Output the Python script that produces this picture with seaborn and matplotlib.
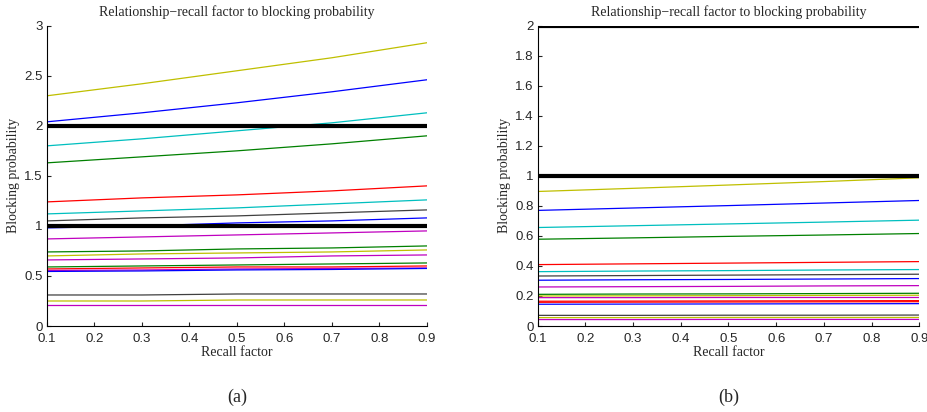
import matplotlib
matplotlib.use("Agg")
import matplotlib.pyplot as plt
import pandas as pd
import seaborn as sns

# recall factor samples
recall = [0.1, 0.3, 0.5, 0.7, 0.9]

# MATLAB-style line colours
C_B = (0.0, 0.0, 1.0)
C_G = (0.0, 0.5, 0.0)
C_R = (1.0, 0.0, 0.0)
C_C = (0.0, 0.75, 0.75)
C_M = (0.75, 0.0, 0.75)
C_Y = (0.75, 0.75, 0.0)
C_K = (0.25, 0.25, 0.25)

# panel (a): blocking probability curves
a_colors = [C_Y, C_B, C_C, C_G, C_R, C_C, C_K, C_B, C_M, C_G, C_Y, C_M,
            C_G, C_R, C_M, C_B, C_K, C_Y, C_M]
a_values = [
    [2.30, 2.42, 2.55, 2.68, 2.83],
    [2.04, 2.13, 2.23, 2.34, 2.46],
    [1.80, 1.87, 1.95, 2.03, 2.13],
    [1.63, 1.69, 1.75, 1.82, 1.90],
    [1.24, 1.28, 1.31, 1.35, 1.40],
    [1.12, 1.15, 1.18, 1.22, 1.26],
    [1.05, 1.08, 1.10, 1.13, 1.16],
    [0.98, 1.00, 1.03, 1.05, 1.08],
    [0.87, 0.89, 0.91, 0.93, 0.95],
    [0.74, 0.75, 0.77, 0.78, 0.80],
    [0.70, 0.72, 0.73, 0.74, 0.76],
    [0.66, 0.67, 0.68, 0.70, 0.71],
    [0.59, 0.60, 0.61, 0.62, 0.63],
    [0.57, 0.58, 0.59, 0.59, 0.60],
    [0.555, 0.56, 0.57, 0.575, 0.58],
    [0.545, 0.55, 0.56, 0.565, 0.575],
    [0.31, 0.31, 0.32, 0.32, 0.32],
    [0.25, 0.25, 0.26, 0.26, 0.26],
    [0.21, 0.21, 0.21, 0.21, 0.21],
]
a_limits = [2.0, 1.0]

# panel (b)
b_colors = [C_Y, C_B, C_C, C_G, C_R, C_C, C_K, C_B, C_M, C_G, C_Y, C_M,
            C_R, C_R, C_B, C_K, C_Y, C_M]
b_values = [
    [0.896, 0.917, 0.939, 0.962, 0.987],
    [0.770, 0.786, 0.802, 0.819, 0.836],
    [0.656, 0.668, 0.680, 0.692, 0.705],
    [0.578, 0.587, 0.597, 0.606, 0.616],
    [0.409, 0.414, 0.419, 0.424, 0.429],
    [0.362, 0.366, 0.369, 0.373, 0.376],
    [0.333, 0.336, 0.339, 0.342, 0.345],
    [0.305, 0.308, 0.310, 0.313, 0.316],
    [0.260, 0.262, 0.264, 0.267, 0.269],
    [0.211, 0.213, 0.214, 0.216, 0.218],
    [0.200, 0.201, 0.202, 0.204, 0.205],
    [0.189, 0.189, 0.190, 0.190, 0.190],
    [0.165, 0.166, 0.167, 0.168, 0.169],
    [0.158, 0.159, 0.160, 0.161, 0.162],
    [0.145, 0.146, 0.147, 0.148, 0.149],
    [0.071, 0.071, 0.072, 0.072, 0.073],
    [0.056, 0.056, 0.057, 0.057, 0.057],
    [0.043, 0.043, 0.044, 0.044, 0.044],
]
b_limits = [2.0, 1.0]

a_yticks = [0, 0.5, 1, 1.5, 2, 2.5, 3]
b_yticks = [0, 0.2, 0.4, 0.6, 0.8, 1, 1.2, 1.4, 1.6, 1.8, 2]
x_ticks = [0.1, 0.2, 0.3, 0.4, 0.5, 0.6, 0.7, 0.8, 0.9]

sns.set_style("ticks")
plt.rcParams['font.family'] = ['Liberation Sans', 'DejaVu Sans']

fig = plt.figure(figsize=(9.27, 4.12), dpi=100)
ax_a = fig.add_axes([0.0507, 0.2087, 0.4099, 0.7289])
ax_b = fig.add_axes([0.5800, 0.2087, 0.4117, 0.7289])

serif = ['Liberation Serif', 'DejaVu Serif']


def draw_panel(ax, colors, values, limits, yticks, ymax, tag):
    for col, vals in zip(colors, values):
        df = pd.DataFrame({'x': recall, 'y': vals})
        sns.lineplot(data=df, x='x', y='y', color=col, lw=0.9, ax=ax)
    for lim in limits:
        df = pd.DataFrame({'x': recall, 'y': [lim] * len(recall)})
        sns.lineplot(data=df, x='x', y='y', color='black', lw=3.0, ax=ax)
    ax.set_xlim(0.1, 0.9)
    ax.set_ylim(0, ymax)
    ax.set_xticks(x_ticks)
    ax.set_xticklabels([f"{t:g}" for t in x_ticks])
    ax.set_yticks(yticks)
    ax.set_yticklabels([f"{t:g}" for t in yticks])
    ax.tick_params(direction='in', length=3, width=0.8, labelsize=9.5)
    ax.tick_params(axis='x', pad=5)
    ax.tick_params(axis='y', pad=3)
    sns.despine(ax=ax)
    for s in ('left', 'bottom'):
        ax.spines[s].set_linewidth(0.8)
        ax.spines[s].set_color('black')
    ax.set_title('Relationship\u2212recall factor to blocking probability',
                 family=serif, fontsize=10, pad=7)
    ax.set_xlabel('Recall factor', family=serif, fontsize=10, labelpad=1)
    ax.set_ylabel('Blocking probability', family=serif, fontsize=10, labelpad=3)
    ax.text(0.5, -0.237, tag, transform=ax.transAxes, ha='center', va='center',
            family=serif, fontsize=13)


draw_panel(ax_a, a_colors, a_values, a_limits, a_yticks, 3, '(a)')
draw_panel(ax_b, b_colors, b_values, b_limits, b_yticks, 2, '(b)')

fig.savefig('out.png', dpi=100)
plt.close(fig)
